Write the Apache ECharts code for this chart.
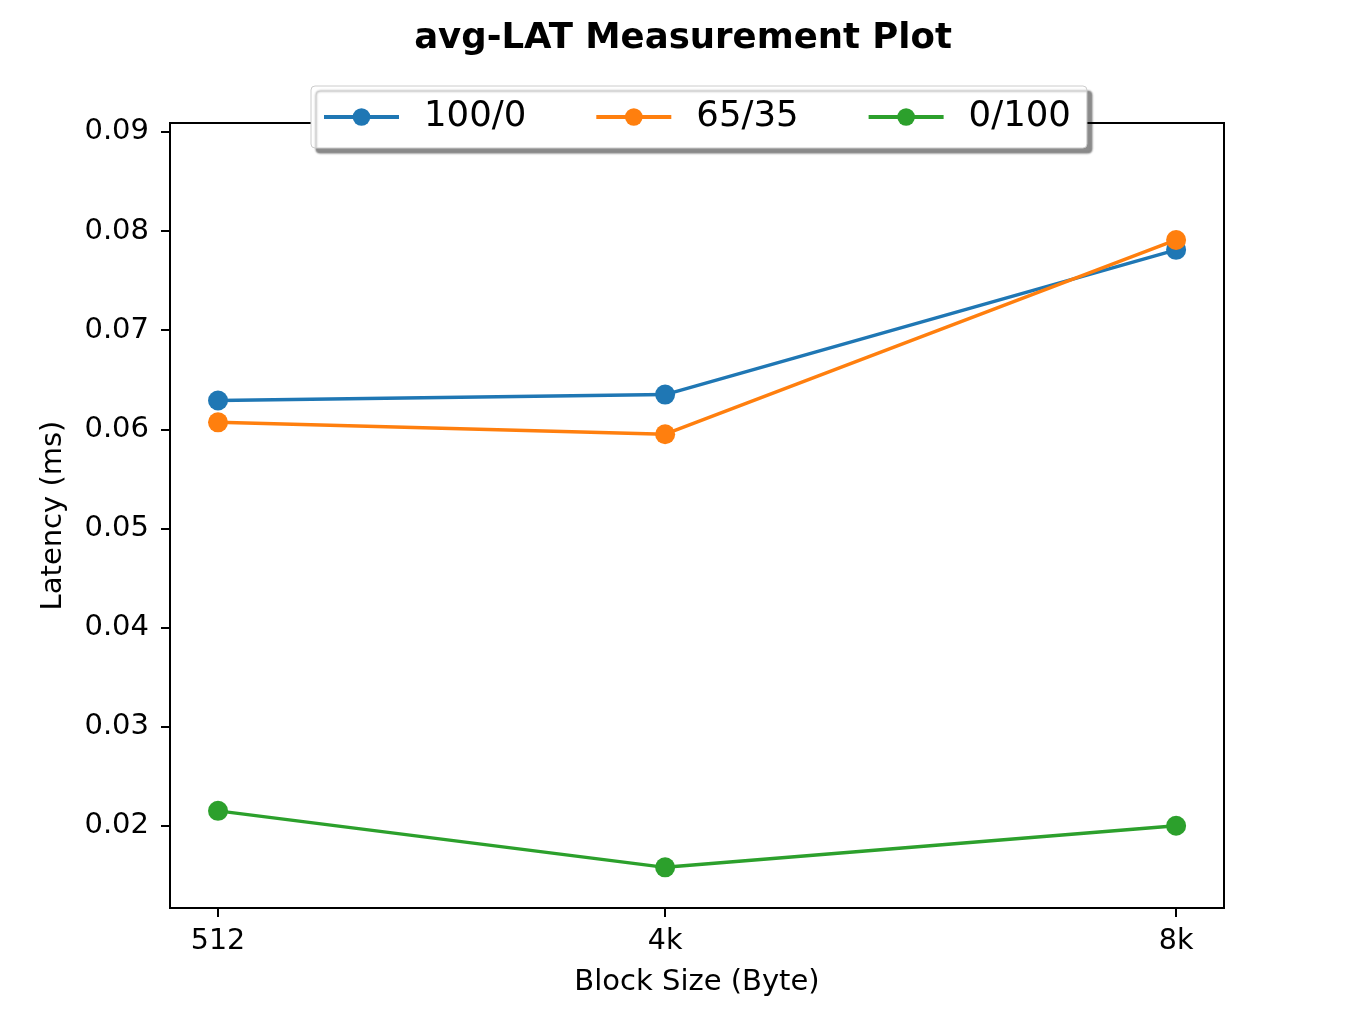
<!DOCTYPE html>
<html>
<head>
<meta charset="utf-8">
<script src="https://cdn.jsdelivr.net/npm/echarts@6/dist/echarts.min.js"></script>
<style>html,body{margin:0;padding:0;background:#fff;}#c{width:1360px;height:1020px;}</style>
</head>
<body>
<div id="c"></div>
<script>
const blockSizes = [0.5, 4, 8];
const tickLabels = ['512', '4k', '8k'];
const seriesNames = ['100/0', '65/35', '0/100'];
const read100 = [0.0629, 0.0635, 0.0781];
const mixed6535 = [0.0607, 0.0595, 0.0791];
const write100 = [0.0215, 0.0158, 0.0200];
const yTicks = [0.02, 0.03, 0.04, 0.05, 0.06, 0.07, 0.08, 0.09];
const colors = ['#1f77b4', '#ff7f0e', '#2ca02c'];

const font = 'DejaVu Sans';
const chart = echarts.init(document.getElementById('c'));
function mk(name, vals, color) {
  return {
    name: name, type: 'line',
    data: blockSizes.map((x, i) => [x, vals[i]]),
    symbol: 'circle', symbolSize: 20,
    lineStyle: { width: 3.5, color: color },
    itemStyle: { color: color },
    emphasis: { disabled: true },
    animation: false
  };
}
chart.setOption({
  backgroundColor: '#fff',
  textStyle: { fontFamily: font },
  title: {
    text: 'avg-LAT Measurement Plot', left: 678, textAlign: 'center', top: 16,
    textStyle: { fontFamily: font, fontWeight: 'bold', fontSize: 35.5, color: '#000' }
  },
  legend: {
    left: 311, top: 86, padding: [13, 16, 13, 11],
    itemWidth: 75, itemHeight: 22, itemGap: 68,
    lineStyle: { width: 4 },
    backgroundColor: '#fff', borderColor: '#ccc', borderWidth: 1, borderRadius: 4,
    shadowColor: 'rgba(0,0,0,0.45)', shadowOffsetX: 5, shadowOffsetY: 5, shadowBlur: 2,
    textStyle: { fontFamily: font, fontSize: 35.5, color: '#000', padding: [0, 0, 0, 20] },
    data: seriesNames
  },
  grid: {
    left: 170, right: 136, top: 123, bottom: 112,
    show: true, borderColor: '#000', borderWidth: 2, backgroundColor: 'transparent'
  },
  xAxis: {
    type: 'value', min: 0.124, max: 8.375,
    name: 'Block Size (Byte)', nameLocation: 'middle', nameGap: 60,
    nameTextStyle: { fontFamily: font, fontSize: 29, color: '#000' },
    axisLine: { show: true, lineStyle: { color: '#000', width: 2 } },
    axisTick: { show: true, length: 9, lineStyle: { color: '#000', width: 2 }, customValues: blockSizes },
    axisLabel: {
      fontFamily: font, fontSize: 28.5, color: '#000', margin: 19, customValues: blockSizes,
      formatter: v => { const i = blockSizes.indexOf(v); return i >= 0 ? tickLabels[i] : ''; }
    },
    splitLine: { show: false }
  },
  yAxis: {
    type: 'value', min: 0.0117, max: 0.0909,
    name: 'Latency (ms)', nameLocation: 'middle', nameGap: 102, nameRotate: 90,
    nameTextStyle: { fontFamily: font, fontSize: 29, color: '#000' },
    axisLine: { show: true, lineStyle: { color: '#000', width: 2 } },
    axisTick: { show: true, length: 9, lineStyle: { color: '#000', width: 2 }, customValues: yTicks },
    axisLabel: {
      fontFamily: font, fontSize: 29, color: '#000', margin: 21, customValues: yTicks,
      formatter: v => v.toFixed(2)
    },
    splitLine: { show: false }
  },
  series: [
    mk(seriesNames[0], read100, colors[0]),
    mk(seriesNames[1], mixed6535, colors[1]),
    mk(seriesNames[2], write100, colors[2])
  ]
});
</script>
</body>
</html>
